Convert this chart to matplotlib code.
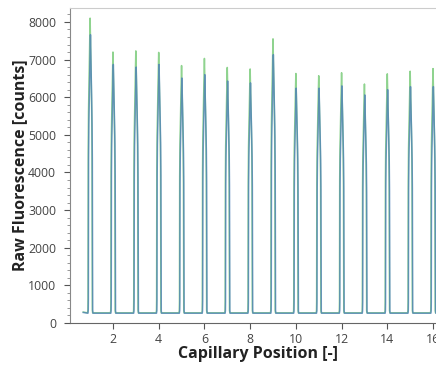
import numpy as np
import matplotlib
matplotlib.use("Agg")
import matplotlib.pyplot as plt
from matplotlib.ticker import MultipleLocator

# ---- data ----
capillary_positions = list(range(1, 17))
green_peaks = [8100, 7200, 7230, 7190, 6840, 7030, 6790, 6750, 7550, 6630, 6570, 6650, 6350, 6620, 6690, 6760]
blue_peaks = [7660, 6870, 6800, 6870, 6510, 6600, 6430, 6380, 7130, 6240, 6240, 6300, 6060, 6200, 6280, 6280]
green_baseline = 270
blue_baseline = 260
# peak profile: offset from the capillary centre and fraction of the peak height
profile_offsets = [-0.40, -0.11, -0.097, -0.091, -0.088, -0.082, -0.07, -0.05, -0.03, -0.012, 0.0,
                   0.012, 0.03, 0.05, 0.07, 0.082, 0.088, 0.091, 0.097, 0.11, 0.40]
profile_fractions = [0.0, 0.0, 0.01, 0.05, 0.3, 0.55, 0.68, 0.78, 0.87, 0.95, 1.0,
                     0.95, 0.87, 0.78, 0.68, 0.55, 0.3, 0.05, 0.01, 0.0, 0.0]
x_start = 0.7
x_end = 16.6
x_ticks = [2, 4, 6, 8, 10, 12, 14, 16]
y_ticks = [0, 1000, 2000, 3000, 4000, 5000, 6000, 7000, 8000]


def build_trace(peaks, base, shift):
    xs = [x_start]
    ys = [base + 20]
    for c, h in zip(capillary_positions, peaks):
        for o, f in zip(profile_offsets, profile_fractions):
            x = c + shift + o
            if x_start < x < x_end:
                xs.append(x)
                ys.append(base + f * (h - base))
    xs.append(x_end)
    ys.append(base)
    return np.array(xs), np.array(ys)


plt.rcParams['font.family'] = ['Open Sans', 'DejaVu Sans']
fig = plt.figure(figsize=(4.36, 3.65), dpi=100)
ax = fig.add_axes([70 / 436, 42 / 365, (16.6 - 0.12) * 22.86 / 436, 315 / 365])

gx, gy = build_trace(green_peaks, green_baseline, 0.0)
bx, by = build_trace(blue_peaks, blue_baseline, 0.015)
ax.plot(gx, gy, color='#7ccc7c', lw=1.1, alpha=0.85)
ax.plot(bx, by, color='#4a7cb8', lw=1.1, alpha=0.75)

ax.set_xlim(0.12, 16.6)
ax.set_ylim(0, 8370)
ax.set_xticks(x_ticks)
ax.set_yticks(y_ticks)
ax.yaxis.set_minor_locator(MultipleLocator(200))
ax.tick_params(axis='both', which='major', labelsize=8.8, colors='#555555', length=4, width=0.8, direction='out')
ax.tick_params(axis='y', which='major', pad=6)
ax.tick_params(axis='y', which='minor', length=2.5, color='#888888', width=0.6)
for lab in ax.get_xticklabels() + ax.get_yticklabels():
    lab.set_color('#444444')

ax.spines['right'].set_visible(False)
ax.spines['top'].set_color('#cccccc')
ax.spines['left'].set_color('#888888')
ax.spines['bottom'].set_color('#666666')

ax.set_xlabel('Capillary Position [-]', fontsize=11.5, fontweight='bold', color='#222222', labelpad=0)
ax.set_ylabel('Raw Fluorescence [counts]', fontsize=11.5, fontweight='bold', color='#222222', labelpad=0)

fig.savefig('out.png', dpi=100)
